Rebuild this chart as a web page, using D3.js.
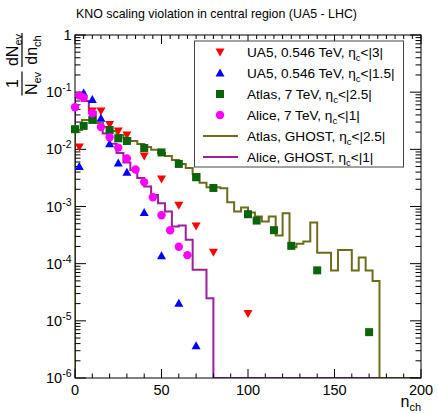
<!DOCTYPE html>
<html><head><meta charset="utf-8">
<script src="https://cdn.jsdelivr.net/npm/d3@7"></script>
<style>body{margin:0;background:#fff}svg{display:block}text{font-family:"Liberation Sans",Arial,Helvetica,sans-serif}</style>
</head><body><svg id="c" width="438" height="414"></svg>
<script>
// ---- data ----
const ua5Eta3N = [2.5,10,15,20,25,30,40,50,60,70,80,100];
const ua5Eta3V = [1.10e-2,4.69e-2,4.69e-2,2.72e-2,2.10e-2,1.79e-2,7.67e-3,3.04e-3,1.05e-3,4.58e-4,1.58e-4,1.35e-5];
const ua5Eta15N = [2.5,5,10,15,20,25,30,40,50,60,70];
const ua5Eta15V = [4.99e-3,9.68e-2,7.45e-2,3.5e-2,1.25e-2,5.78e-3,3.98e-3,7.82e-4,1.37e-4,2.04e-5,3.66e-6];
const atlasN = [0,5,10,20,25,30,40,50,60,70,80,100,105,115,125,140,170];
const atlasV = [0.0225,0.0257,0.0327,0.0218,0.0156,0.0140,0.01057,8.83e-3,5.56e-3,3.25e-3,2.11e-3,7.33e-4,5.67e-4,3.85e-4,2.05e-4,7.64e-5,6.34e-6];
const aliceN = [0,2.5,5,10,15,20,25,30,35,40,45,50,55,60,65];
const aliceV = [0.0545,0.0875,0.0801,0.0428,0.0246,0.0163,0.0107,6.93e-3,4.43e-3,2.67e-3,1.45e-3,7.05e-4,3.85e-4,1.98e-4,1.41e-4];
const ghostBinWidth = 4;
const atlasGhost = [0.0218,0.0327,0.0327,0.0290,0.0246,0.0210,0.0179,0.0158,0.0140,0.0124,0.0110,0.0098,0.00865,0.00767,0.00653,0.00556,0.00473,0.00371,0.00259,0.00217,0.00217,0.00209,0.00119,8.14e-4,9.57e-4,7.82e-4,6.66e-4,5.45e-4,6.66e-4,3.10e-4,7.64e-4,1.94e-4,2.22e-4,2.44e-4,5.23e-4,1.56e-4,1.56e-4,7.57e-5,1.74e-4,1.74e-4,7.57e-5,1.28e-4,7.57e-5,5.0e-5];
const aliceGhost = [0.085,0.07,0.045,0.029,0.019,0.0125,0.0086,0.0059,0.00437,0.00316,0.00223,0.00159,0.00114,8.14e-4,4.45e-4,4.63e-4,2.61e-4,7.8e-5,7.8e-5,2.49e-5];
const xTickLabels = ["0","50","100","150","200"];
const yDecades = [-6,-5,-4,-3,-2,-1,0];
const legendLabels = [
  ["UA5, 0.546 TeV, η","c","<|3|"],
  ["UA5, 0.546 TeV, η","c","<|1.5|"],
  ["Atlas, 7 TeV, η","c","<|2.5|"],
  ["Alice, 7 TeV, η","c","<|1|"],
  ["Atlas, GHOST, η","c","<|2.5|"],
  ["Alice, GHOST, η","c","<|1|"]
];
const titleText = "KNO scaling violation in central region (UA5 - LHC)";

// ---- setup ----
const svg = d3.select("#c");
const X0=75, X1=421, Y0=378, Y1=35;
const x = d3.scaleLinear().domain([0,200]).range([X0,X1]);
const y = d3.scaleLog().domain([1e-6,1]).range([Y0,Y1]);
const RED="#ff0000", BLUE="#0000ff", GREEN="#0a640a", MAG="#ff00ff", OLIVE="#6f6b1c", PURPLE="#9c1f9c";

svg.append("defs").append("clipPath").attr("id","clip").append("rect")
  .attr("x",X0).attr("y",Y1).attr("width",X1-X0).attr("height",Y0-Y1);

// title
svg.append("text").attr("x",216.5).attr("y",18).attr("text-anchor","middle")
  .attr("font-size",12.4).text(titleText);

// histograms
function histPath(vals){
  const p = d3.path();
  p.moveTo(x(0), Y0);
  vals.forEach((v,i)=>{
    p.lineTo(x(i*ghostBinWidth), y(v));
    p.lineTo(x((i+1)*ghostBinWidth), y(v));
  });
  p.lineTo(x(vals.length*ghostBinWidth), Y0);
  p.lineTo(x(200), Y0);
  return p.toString();
}
const plot = svg.append("g").attr("clip-path","url(#clip)");
plot.append("path").attr("d",histPath(aliceGhost)).attr("fill","none").attr("stroke",PURPLE).attr("stroke-width",2);
plot.append("path").attr("d",histPath(atlasGhost)).attr("fill","none").attr("stroke",OLIVE).attr("stroke-width",2);

// frame & ticks
const ax = svg.append("g").attr("stroke","#000").attr("stroke-width",1);
ax.append("rect").attr("x",X0).attr("y",Y1).attr("width",X1-X0).attr("height",Y0-Y1).attr("fill","none");
for(let n=0;n<=200;n+=5){
  const major = n%50===0;
  const bl = major?9:(n%10===0?4.5:0);
  if(bl>0) ax.append("line").attr("x1",x(n)).attr("x2",x(n)).attr("y1",Y0).attr("y2",Y0-bl);
  const tl = major?9:4;
  ax.append("line").attr("x1",x(n)).attr("x2",x(n)).attr("y1",Y1).attr("y2",Y1+tl);
}
yDecades.forEach(d=>{
  const v=Math.pow(10,d);
  ax.append("line").attr("x1",X0).attr("x2",X0+11).attr("y1",y(v)).attr("y2",y(v));
  ax.append("line").attr("x1",X1).attr("x2",X1-11).attr("y1",y(v)).attr("y2",y(v));
  if(d<0){
    for(let k=2;k<=9;k++){
      const vv=k*v;
      ax.append("line").attr("x1",X0).attr("x2",X0+5.5).attr("y1",y(vv)).attr("y2",y(vv));
      ax.append("line").attr("x1",X1).attr("x2",X1-5.5).attr("y1",y(vv)).attr("y2",y(vv));
    }
  }
});

// tick labels
xTickLabels.forEach(t=>{
  svg.append("text").attr("x",x(+t)).attr("y",395).attr("text-anchor","middle").attr("font-size",14.5).text(t);
});
yDecades.forEach(d=>{
  const t = svg.append("text").attr("x",71.5).attr("y",y(Math.pow(10,d))+5).attr("text-anchor","end").attr("font-size",14.5);
  if(d===0){ t.text("1"); }
  else {
    t.append("tspan").text("10");
    t.append("tspan").attr("dy",-6).attr("font-size",10.5).text("-"+(-d));
  }
});

// axis titles
const xt = svg.append("text").attr("x",421).attr("y",407).attr("text-anchor","end");
xt.append("tspan").attr("font-size",16).text("n");
xt.append("tspan").attr("font-size",11).attr("dy",4).text("ch");

const yt = svg.append("g").attr("transform","translate(22,100) rotate(-90)");
function frac(cx, halfw, numMain, numSub, denMain, denSub){
  yt.append("line").attr("x1",cx-halfw).attr("x2",cx+halfw).attr("y1",0).attr("y2",0).attr("stroke","#000").attr("stroke-width",1.2);
  const nt = yt.append("text").attr("x",cx).attr("y",-4).attr("text-anchor","middle");
  nt.append("tspan").attr("font-size",16).text(numMain);
  if(numSub) nt.append("tspan").attr("font-size",11).attr("dy",4).text(numSub);
  const dt = yt.append("text").attr("x",cx).attr("y",15).attr("text-anchor","middle");
  dt.append("tspan").attr("font-size",16).text(denMain);
  if(denSub) dt.append("tspan").attr("font-size",11).attr("dy",4).text(denSub);
}
frac(16.5, 12, "1", null, "N", "ev");
frac(50, 17, "dN", "ev", "dn", "ch");

// markers
const triDown = "M-4.5,-3.5L4.5,-3.5L0,4.5Z";
const triUp = "M-4.5,3.5L4.5,3.5L0,-4.5Z";
const mk = svg.append("g");
mk.selectAll(".r").data(ua5Eta3N).enter().append("path").attr("d",triDown)
  .attr("transform",(d,i)=>`translate(${x(d)},${y(ua5Eta3V[i])})`).attr("fill",RED);
mk.selectAll(".g").data(atlasN).enter().append("rect")
  .attr("x",d=>x(d)-4).attr("y",(d,i)=>y(atlasV[i])-4).attr("width",8).attr("height",8).attr("fill",GREEN);
mk.selectAll(".b").data(ua5Eta15N).enter().append("path").attr("d",triUp)
  .attr("transform",(d,i)=>`translate(${x(d)},${y(ua5Eta15V[i])})`).attr("fill",BLUE);
mk.selectAll(".m").data(aliceN).enter().append("circle")
  .attr("cx",d=>x(d)).attr("cy",(d,i)=>y(aliceV[i])).attr("r",4.2).attr("fill",MAG);

// legend
const lg = svg.append("g");
lg.append("rect").attr("x",194.5).attr("y",41).attr("width",209).attr("height",126).attr("fill","#fff").attr("stroke","#444").attr("stroke-width",1);
legendLabels.forEach((lab,i)=>{
  const cy = 52 + i*21;
  if(i===0) lg.append("path").attr("d",triDown).attr("transform",`translate(220,${cy})`).attr("fill",RED);
  if(i===1) lg.append("path").attr("d",triUp).attr("transform",`translate(220,${cy})`).attr("fill",BLUE);
  if(i===2) lg.append("rect").attr("x",216).attr("y",cy-4).attr("width",8).attr("height",8).attr("fill",GREEN);
  if(i===3) lg.append("circle").attr("cx",220).attr("cy",cy).attr("r",4.2).attr("fill",MAG);
  if(i===4) lg.append("line").attr("x1",203).attr("x2",238).attr("y1",cy).attr("y2",cy).attr("stroke",OLIVE).attr("stroke-width",2);
  if(i===5) lg.append("line").attr("x1",203).attr("x2",238).attr("y1",cy).attr("y2",cy).attr("stroke",PURPLE).attr("stroke-width",2);
  const t = lg.append("text").attr("x",247).attr("y",cy+4.5).attr("font-size",13.6);
  t.append("tspan").text(lab[0]);
  t.append("tspan").attr("font-size",9.5).attr("dy",4).text(lab[1]);
  t.append("tspan").attr("dy",-4).text(lab[2]);
});
</script></body></html>
